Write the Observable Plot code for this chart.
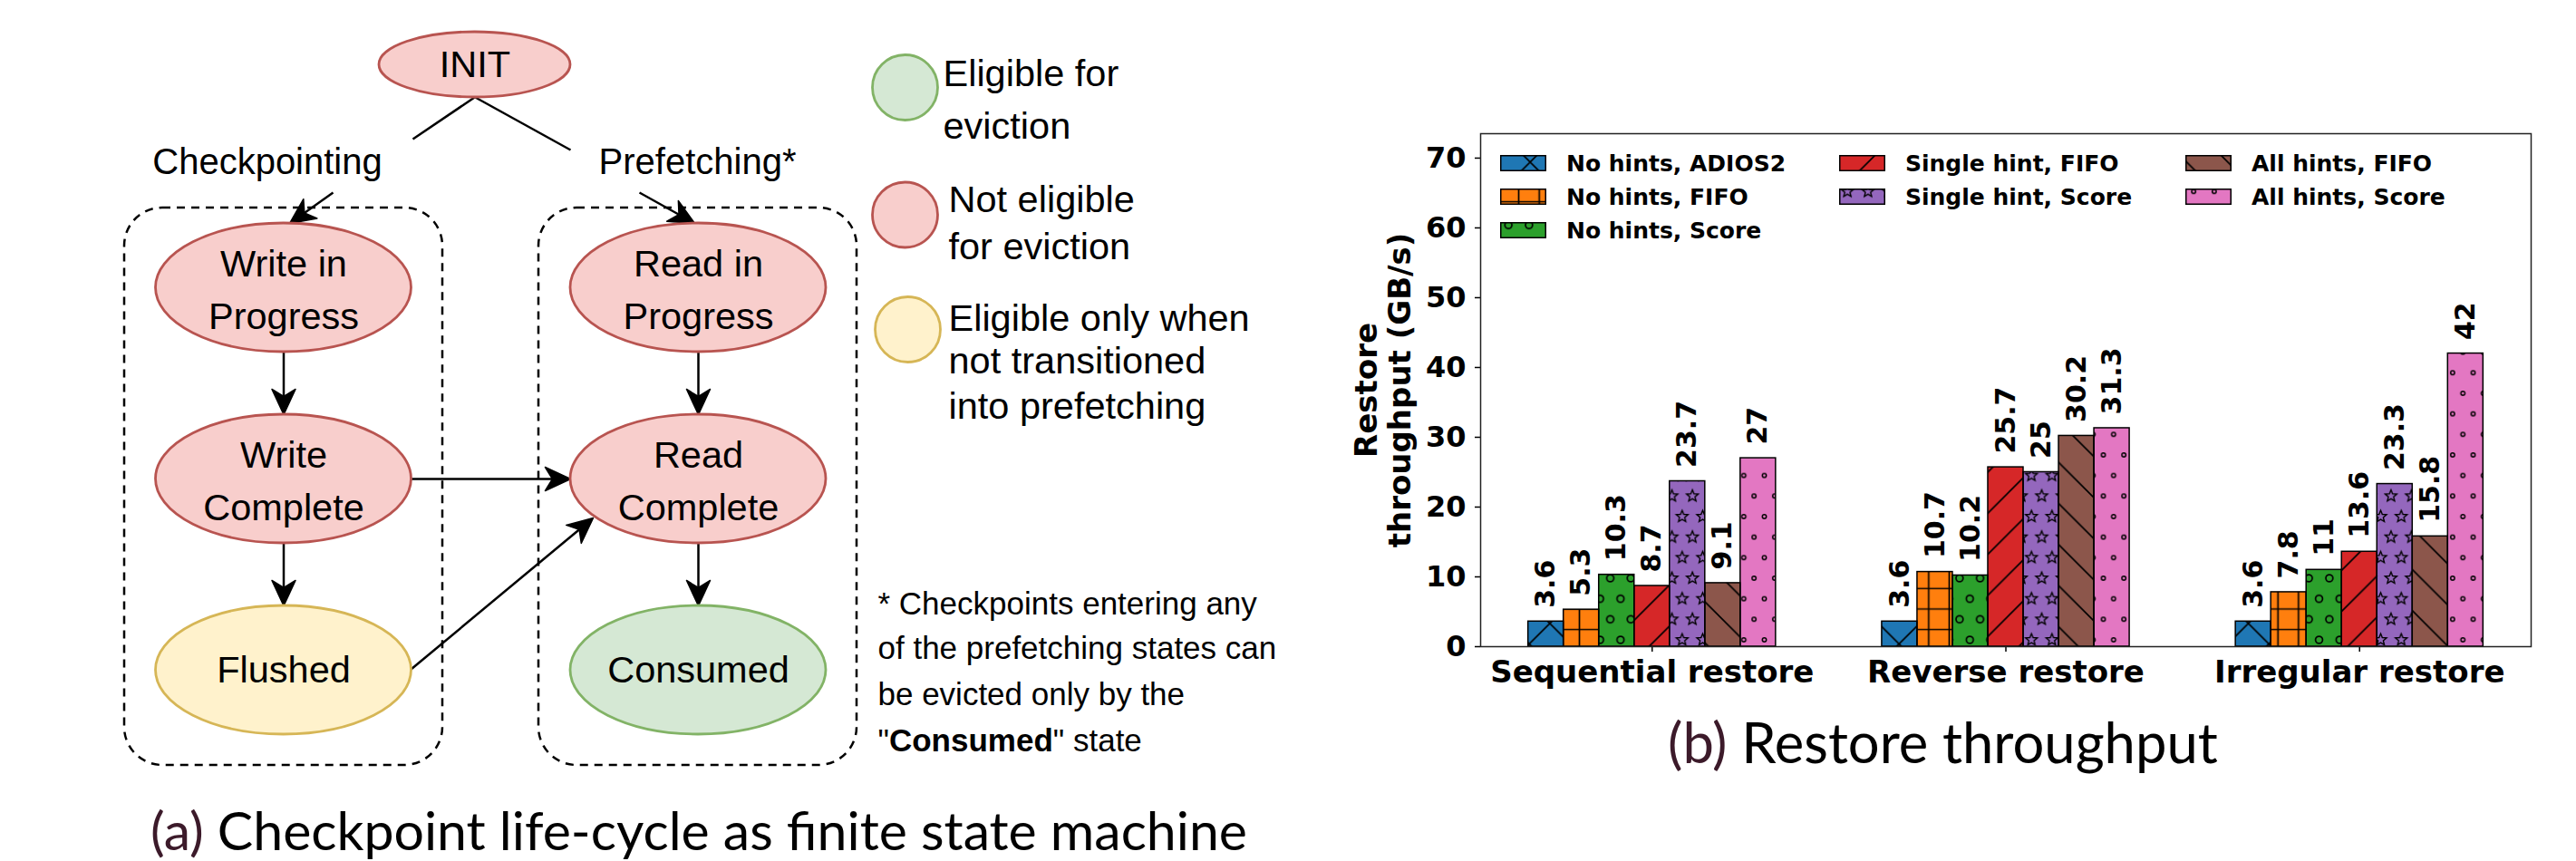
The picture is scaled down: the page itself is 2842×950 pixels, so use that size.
<!DOCTYPE html>
<html>
<head>
<meta charset="utf-8">
<script src="https://cdn.jsdelivr.net/npm/d3@7"></script>
<script src="https://cdn.jsdelivr.net/npm/@observablehq/plot@0.6"></script>
<style>
  html, body { margin: 0; padding: 0; background: #fff; }
  body { width: 2842px; height: 950px; position: relative; overflow: hidden; }
  .abs { position: absolute; }
  #chart g[aria-label="x-axis tick label"], #chart g[aria-label="x-axis"] { font-size: 34px; }
  #chart g[aria-label="y-axis tick label"], #chart g[aria-label="y-axis"] { font-size: 32px; }
  #chart g[aria-label="x-axis tick"] path, #chart g[aria-label="y-axis tick"] path,
  #chart g[aria-label="x-axis"] line, #chart g[aria-label="y-axis"] line { stroke-width: 1.5px; }
  .cap { position: absolute; font-family: Lato, "Open Sans", sans-serif; color: #000; white-space: nowrap; }
  .cap .lbl { color: #3c1a2a; }
  .lg-text { position: absolute; font-family: "DejaVu Sans", sans-serif; font-weight: bold; font-size: 25px; line-height: 37px; white-space: nowrap; color: #000; }
  .lg-swatch { position: absolute; }
</style>
</head>
<body>
<svg id="hatch-defs" width="0" height="0" style="position:absolute;left:0;top:0"></svg>
<div id="diagram" class="abs" style="left:0;top:0"></div>
<div id="chart" class="abs" style="left:1450px;top:0"></div>
<div id="legend"></div>
<div class="cap" style="left:166px;top:886px;font-size:59px;line-height:59px"><span class="lbl">(a)</span> Checkpoint life-cycle as finite state machine</div>
<div class="cap" style="left:1840px;top:787.5px;font-size:61.5px;line-height:61.5px"><span class="lbl">(b)</span> Restore throughput</div>
<script>
// ---------------- bar chart data ----------------
const groups = ["Sequential restore", "Reverse restore", "Irregular restore"];
const series = ["No hints, ADIOS2", "No hints, FIFO", "No hints, Score",
                "Single hint, FIFO", "Single hint, Score", "All hints, FIFO", "All hints, Score"];
const sequentialValues = [3.6, 5.3, 10.3, 8.7, 23.7, 9.1, 27];
const reverseValues    = [3.6, 10.7, 10.2, 25.7, 25, 30.2, 31.3];
const irregularValues  = [3.6, 7.8, 11, 13.6, 23.3, 15.8, 42];
const yTicks = [0, 10, 20, 30, 40, 50, 60, 70];
const yLabelLines = ["Restore", "throughput (GB/s)"];

// styles (kept apart from the data)
const seriesColors  = ["#1f77b4", "#ff7f0e", "#2ca02c", "#d62728", "#9467bd", "#8c564b", "#e377c2"];
const seriesHatches = ["x", "+", "o", "/", "*", "\\", "."];

// ---------------- state machine data ----------------
const stateNodes = [
  {label: ["Write in", "Progress"], cx: 312.5, cy: 317, kind: "busy"},
  {label: ["Read in", "Progress"],  cx: 770,   cy: 317, kind: "busy"},
  {label: ["Write", "Complete"],    cx: 312.5, cy: 528, kind: "busy"},
  {label: ["Read", "Complete"],     cx: 770,   cy: 528, kind: "busy"},
  {label: ["Flushed"],              cx: 312.5, cy: 739, kind: "cond"},
  {label: ["Consumed"],             cx: 770,   cy: 739, kind: "free"}
];
const initNode = [{label: ["INIT"], cx: 523.5, cy: 71, kind: "busy"}];
const phaseBoxes = [
  {x1: 137, x2: 488, y1: 229, y2: 844},
  {x1: 594, x2: 945, y1: 229, y2: 844}
];
const transitions = [
  {x1: 523,   y1: 107, x2: 455,   y2: 153, arrow: false},
  {x1: 367,   y1: 212, x2: 319,   y2: 246, arrow: true},
  {x1: 524,   y1: 107, x2: 629,   y2: 165, arrow: false},
  {x1: 705,   y1: 212, x2: 766,   y2: 246, arrow: true},
  {x1: 312.5, y1: 388, x2: 312.5, y2: 457, arrow: true},
  {x1: 312.5, y1: 599, x2: 312.5, y2: 668, arrow: true},
  {x1: 770,   y1: 388, x2: 770,   y2: 457, arrow: true},
  {x1: 770,   y1: 599, x2: 770,   y2: 668, arrow: true},
  {x1: 453,   y1: 528, x2: 629,   y2: 528, arrow: true},
  {x1: 453,   y1: 738, x2: 654,   y2: 571, arrow: true}
];
const transitionLabels = [
  {text: "Checkpointing", x: 294.5, y: 179},
  {text: "Prefetching*",  x: 769,   y: 179}
];
const keyNodes = [
  {kind: "free", x: 998,  y: 96},
  {kind: "busy", x: 998,  y: 236.5},
  {kind: "cond", x: 1001, y: 363}
];
const keyLines = [
  {text: "Eligible for",       x: 1040, y: 81},
  {text: "eviction",           x: 1040, y: 139.5},
  {text: "Not eligible",       x: 1046, y: 220.5},
  {text: "for eviction",       x: 1046, y: 272.5},
  {text: "Eligible only when", x: 1046, y: 351},
  {text: "not transitioned",   x: 1046, y: 398.5},
  {text: "into prefetching",   x: 1046, y: 448}
];
const noteLines = [
  {text: "* Checkpoints entering any",    x: 968, y: 666},
  {text: "of the prefetching states can", x: 968, y: 715},
  {text: "be evicted only by the",        x: 968, y: 766.5},
  {text: "\"Consumed\" state",            x: 968, y: 817}
];
const nodeStyles = {
  busy: {fill: "#f8cecc", stroke: "#b85450"},
  cond: {fill: "#fff2cc", stroke: "#d6b656"},
  free: {fill: "#d5e8d4", stroke: "#82b366"}
};

// ---------------- hatch patterns ----------------
const S = 136 / 6, D = 2 * S;
const hatchIds = {"x": "h-x", "+": "h-plus", "o": "h-o", "/": "h-slash", "*": "h-star", "\\": "h-back", ".": "h-dot"};
(function buildPatterns() {
  const defs = d3.select("#hatch-defs").append("defs");
  const pat = (id, w, h, ox, oy) => defs.append("pattern").attr("id", id)
    .attr("patternUnits", "userSpaceOnUse").attr("width", w).attr("height", h)
    .attr("x", ox).attr("y", oy);
  const line = (p, d) => p.append("path").attr("d", d).attr("fill", "none")
    .attr("stroke", "#000").attr("stroke-width", 1.7);
  const slash = `M0,${D}L${D},0M-6,6L6,-6M${D - 6},${D + 6}L${D + 6},${D - 6}`;
  const back = `M0,0L${D},${D}M-6,${D - 6}L6,${D + 6}M${D - 6},-6L${D + 6},6`;
  line(pat("h-x", D, D, 10.5, 30.5), slash + back);
  line(pat("h-slash", D, D, 40, 0), slash);
  line(pat("h-back", D, D, 39, 0), back);
  line(pat("h-plus", S, S, 9.2, 3.3), `M0,${S / 2}H${S}M${S / 2},0V${S}`);
  const centers = [[0, 0], [S, 0], [0, D], [S, D], [S / 2, S]];
  const circ = pat("h-o", S, D, 9.2, 3.3);
  centers.forEach(([x, y]) => circ.append("circle").attr("cx", x).attr("cy", y).attr("r", 3.9)
    .attr("fill", "none").attr("stroke", "#000").attr("stroke-width", 1.7));
  const dot = pat("h-dot", S, D, 9.2, 3.3);
  centers.forEach(([x, y]) => dot.append("circle").attr("cx", x).attr("cy", y).attr("r", 2.2)
    .attr("fill", "none").attr("stroke", "#000").attr("stroke-width", 1.5));
  const star = pat("h-star", S, D, 9.2, 3.3);
  const starPath = (cx, cy, R, r) => {
    let p = "";
    for (let k = 0; k < 10; k++) {
      const a = -Math.PI / 2 + k * Math.PI / 5, rad = k % 2 ? r : R;
      p += (k ? "L" : "M") + (cx + rad * Math.cos(a)).toFixed(2) + "," + (cy + rad * Math.sin(a)).toFixed(2);
    }
    return p + "Z";
  };
  centers.forEach(([x, y]) => star.append("path").attr("d", starPath(x, y, 6.8, 3.0))
    .attr("fill", "none").attr("stroke", "#000").attr("stroke-width", 1.4));
})();

// ---------------- bar chart ----------------
const valuesByGroup = [sequentialValues, reverseValues, irregularValues];
const table = groups.flatMap((group, gi) => series.map((name, si) => ({group, gi, series: name, si, value: valuesByGroup[gi][si]})));
const barStep = 0.1;
const halfGroup = series.length * barStep / 2;
const xPad = 0.05 * (groups.length - 1 + 2 * halfGroup);
const xDomain = [-halfGroup - xPad, groups.length - 1 + halfGroup + xPad];
const yDomain = [0, 73.5];
const barX1 = d => d.gi + (d.si - series.length / 2) * barStep;
const barX2 = d => barX1(d) + barStep;
const barMid = d => barX1(d) + barStep / 2;
const yLabelOffsets = [-125, -88];

const chart = Plot.plot({
  width: 1392, height: 790,
  marginLeft: 183, marginRight: 50, marginTop: 147, marginBottom: 77,
  x: {domain: xDomain, ticks: groups.map((g, i) => i),
      tickFormat: i => groups[i], tickSize: 6, tickPadding: 9, label: null},
  y: {domain: yDomain, ticks: yTicks, tickSize: 6, tickPadding: 10, label: null},
  color: {type: "identity"},
  style: {fontFamily: "'DejaVu Sans', sans-serif", fontWeight: "bold", fontSize: "32px", background: "transparent", color: "#000", overflow: "visible"},
  marks: [
    Plot.rect(table, {x1: barX1, x2: barX2, y1: d => 0, y2: "value", fill: d => seriesColors[d.si]}),
    Plot.rect(table, {x1: barX1, x2: barX2, y1: d => 0, y2: "value", fill: d => `url(#${hatchIds[seriesHatches[d.si]]})`, stroke: "#000", strokeWidth: 1.5}),
    Plot.text(table, {x: barMid, y: "value", text: d => String(d.value), rotate: -90, textAnchor: "start", dy: -15,
                      fontSize: 30, fontWeight: "bold", fill: "#000"}),
    ...yLabelLines.map((line, k) => Plot.text([line], {x: d => xDomain[0], y: d => (yDomain[0] + yDomain[1]) / 2, text: d => d,
      dx: yLabelOffsets[k], rotate: -90, textAnchor: "middle", fontSize: 34, fontWeight: "bold", fill: "#000"})),
    Plot.frame({stroke: "#222", strokeWidth: 1.5})
  ]
});
document.getElementById("chart").append(chart);

// legend (inside the axes, matplotlib style, 3 columns)
const legendCols = [1655, 2029, 2411], legendRows = [180, 217, 254];
const legend = d3.select("#legend");
series.forEach((name, i) => {
  const col = i < 3 ? 0 : i < 5 ? 1 : 2;
  const row = i < 3 ? i : i < 5 ? i - 3 : i - 5;
  const sw = legend.append("svg").attr("class", "lg-swatch").attr("width", 51).attr("height", 18)
    .style("left", legendCols[col] + "px").style("top", (legendRows[row] - 9) + "px");
  sw.append("rect").attr("x", 0.75).attr("y", 0.75).attr("width", 49.5).attr("height", 16.5).attr("fill", seriesColors[i]);
  sw.append("rect").attr("x", 0.75).attr("y", 0.75).attr("width", 49.5).attr("height", 16.5)
    .attr("fill", `url(#${hatchIds[seriesHatches[i]]})`).attr("stroke", "#000").attr("stroke-width", 1.5);
  legend.append("div").attr("class", "lg-text").text(name)
    .style("left", (legendCols[col] + 73) + "px").style("top", (legendRows[row] - 18.5) + "px");
});

// ---------------- state machine diagram ----------------
const HEAD_LEN = 28, HEAD_HALF = 13, NOTCH = 8;
const arrows = transitions.filter(t => t.arrow);
const shafts = transitions.map(t => {
  if (!t.arrow) return t;
  const len = Math.hypot(t.x2 - t.x1, t.y2 - t.y1);
  const ux = (t.x2 - t.x1) / len, uy = (t.y2 - t.y1) / len;
  return {x1: t.x1, y1: t.y1, x2: t.x2 - (HEAD_LEN - NOTCH) * ux, y2: t.y2 - (HEAD_LEN - NOTCH) * uy};
});
const heads = arrows.flatMap((t, id) => {
  const len = Math.hypot(t.x2 - t.x1, t.y2 - t.y1);
  const ux = (t.x2 - t.x1) / len, uy = (t.y2 - t.y1) / len, nx = -uy, ny = ux;
  const bx = t.x2 - HEAD_LEN * ux, by = t.y2 - HEAD_LEN * uy;
  return [
    {id, x: t.x2, y: t.y2},
    {id, x: bx + HEAD_HALF * nx, y: by + HEAD_HALF * ny},
    {id, x: t.x2 - (HEAD_LEN - NOTCH) * ux, y: t.y2 - (HEAD_LEN - NOTCH) * uy},
    {id, x: bx - HEAD_HALF * nx, y: by - HEAD_HALF * ny},
    {id, x: t.x2, y: t.y2}
  ];
});
const NODE_RX = 141, NODE_RY = 71, INIT_RX = 105.5, INIT_RY = 36, LINE_GAP = 58.5;
const nodeText = stateNodes.concat(initNode).flatMap(n => n.label.map((text, k) => ({
  text, x: n.cx, y: n.cy + (n.label.length > 1 ? 3 : 0) + (k - (n.label.length - 1) / 2) * LINE_GAP
})));
const diagFont = "'Liberation Sans', Arial, Helvetica, sans-serif";

const diagram = Plot.plot({
  width: 1450, height: 860, margin: 0,
  x: {domain: [0, 1450], range: [0, 1450], axis: null},
  y: {domain: [0, 860], range: [0, 860], axis: null},
  color: {type: "identity"},
  style: {fontFamily: diagFont, background: "transparent", overflow: "visible"},
  marks: [
    Plot.rect(phaseBoxes, {x1: "x1", x2: "x2", y1: "y1", y2: "y2", rx: 42, ry: 42, fill: "none",
                           stroke: "#000", strokeWidth: 2.5, strokeDasharray: "9 7"}),
    Plot.link(shafts, {x1: "x1", y1: "y1", x2: "x2", y2: "y2", stroke: "#000", strokeWidth: 2.5}),
    Plot.line(heads, {x: "x", y: "y", z: "id", fill: "#000", stroke: "#000", strokeWidth: 1.5}),
    Plot.rect(stateNodes, {x1: d => d.cx - NODE_RX, x2: d => d.cx + NODE_RX, y1: d => d.cy - NODE_RY, y2: d => d.cy + NODE_RY,
                           rx: NODE_RX, ry: NODE_RY, fill: d => nodeStyles[d.kind].fill, stroke: d => nodeStyles[d.kind].stroke, strokeWidth: 2.8}),
    Plot.rect(initNode, {x1: d => d.cx - INIT_RX, x2: d => d.cx + INIT_RX, y1: d => d.cy - INIT_RY, y2: d => d.cy + INIT_RY,
                         rx: INIT_RX, ry: INIT_RY, fill: d => nodeStyles[d.kind].fill, stroke: d => nodeStyles[d.kind].stroke, strokeWidth: 2.8}),
    Plot.dot(keyNodes, {x: "x", y: "y", r: 36, fill: d => nodeStyles[d.kind].fill, stroke: d => nodeStyles[d.kind].stroke, strokeWidth: 2.8}),
    Plot.text(nodeText, {x: "x", y: "y", text: "text", fontSize: 41.5, fill: "#000"}),
    Plot.text(transitionLabels, {x: "x", y: "y", text: "text", fontSize: 40, fill: "#000"}),
    Plot.text(keyLines, {x: "x", y: "y", text: "text", textAnchor: "start", fontSize: 41.5, fill: "#000"}),
    Plot.text(noteLines, {x: "x", y: "y", text: "text", textAnchor: "start", fontSize: 35, fill: "#000"})
  ]
});
document.getElementById("diagram").append(diagram);

// bold "Consumed" inside the footnote's last line
d3.select(diagram).selectAll("text").each(function () {
  if (this.textContent === "\"Consumed\" state") {
    const t = d3.select(this);
    t.text(null);
    t.append("tspan").text("\"");
    t.append("tspan").attr("font-weight", "bold").text("Consumed");
    t.append("tspan").text("\" state");
  }
});
</script>
</body>
</html>
